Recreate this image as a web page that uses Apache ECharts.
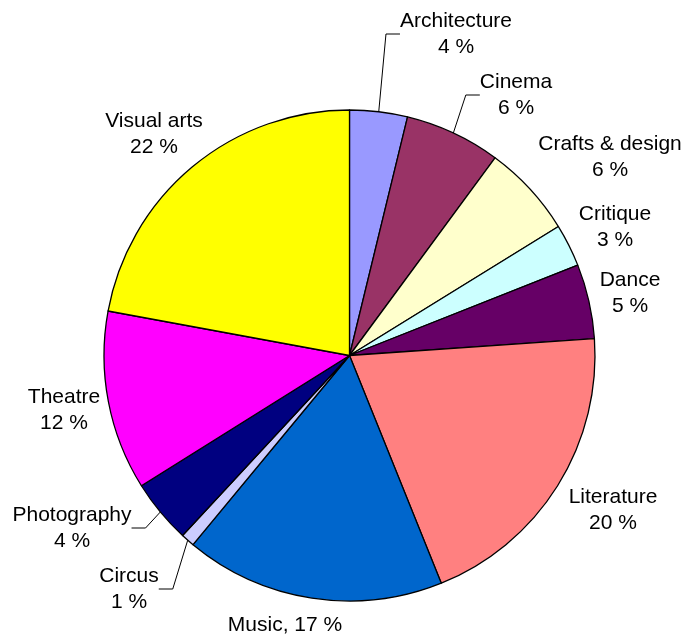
<!DOCTYPE html>
<html><head><meta charset="utf-8">
<script src="https://cdn.jsdelivr.net/npm/echarts@6/dist/echarts.min.js"></script>
<style>html,body{margin:0;padding:0;background:#fff}#c{width:685px;height:637px}</style>
</head><body><div id="c"></div>
<script>
const categories = ['Architecture','Cinema','Crafts & design','Critique','Dance','Literature','Music','Circus','Photography','Theatre','Visual arts'];
const shares = [3.8, 6.3, 6.1, 2.8, 4.9, 20.0, 17.1, 0.9, 4.2, 11.8, 22.1];
const colors = ['#9999ff','#993366','#ffffcc','#ccffff','#660066','#ff8080','#0066cc','#ccccff','#000080','#ff00ff','#ffff00'];
const labelPos = [[456,34],[516,95],[610,157],[615,227],[630,293],[613,510],[285,625],[129,589],[72,528],[64,410],[154,134]];
const withLine = ['Architecture','Cinema','Circus','Photography'];

const chart = echarts.init(document.getElementById('c'), null, {renderer:'canvas'});
const data = categories.map((name, i) => ({
  name: name,
  value: shares[i],
  itemStyle: { color: colors[i] },
  labelLine: { show: withLine.indexOf(name) >= 0 }
}));
chart.setOption({
  animation: false,
  backgroundColor: '#fff',
  series: [{
    type: 'pie',
    center: [349.5, 355.5],
    radius: 245.5,
    startAngle: 90,
    clockwise: true,
    avoidLabelOverlap: false,
    data: data,
    itemStyle: { borderColor: '#000', borderWidth: 1.3 },
    label: {
      show: true,
      position: 'outside',
      color: '#000',
      fontFamily: 'Liberation Sans, Arial, sans-serif',
      fontSize: 21,
      lineHeight: 26,
      align: 'center',
      formatter: function (p) {
        const pct = Math.round(p.percent) + ' %';
        return p.name === 'Music' ? p.name + ', ' + pct : p.name + '\n' + pct;
      }
    },
    labelLine: {
      length: 20,
      length2: 14,
      minTurnAngle: 30,
      lineStyle: { color: '#000', width: 1 }
    },
    labelLayout: function (params) {
      const pos = labelPos[params.dataIndex];
      return { x: pos[0], y: pos[1], align: 'center', verticalAlign: 'middle' };
    },
    emphasis: { disabled: true }
  }]
});
</script>
</body></html>
